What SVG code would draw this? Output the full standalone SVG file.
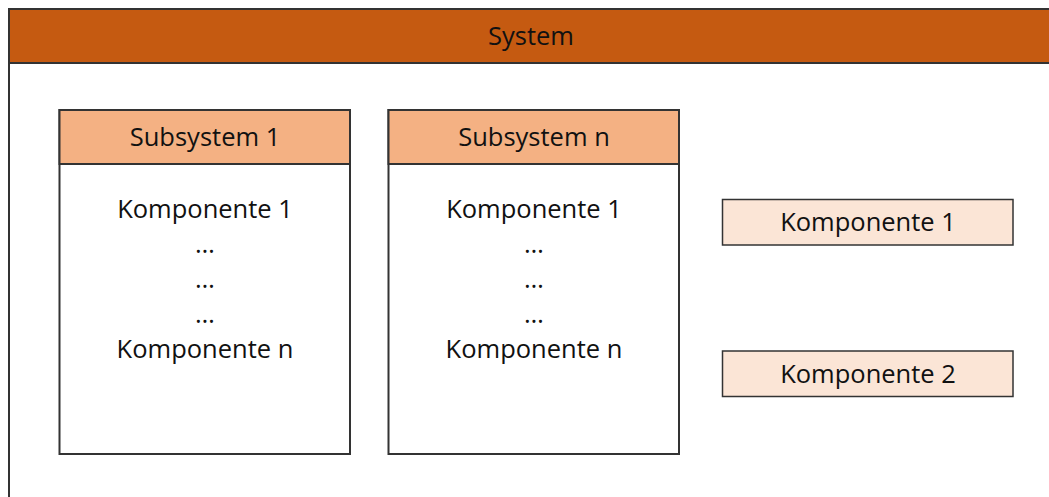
<svg xmlns="http://www.w3.org/2000/svg" width="1049" height="497" viewBox="0 0 1049 497">
<style>
.t{font-family:"Open Sans","Noto Sans","Liberation Sans",sans-serif;font-size:25.5px;fill:#111;text-anchor:middle}
.ln{stroke:#333;stroke-width:2}
.sub{fill:#fff;stroke:#333;stroke-width:2}
.subh{fill:#F4B183;stroke:#333;stroke-width:2}
.comp{fill:#FBE5D6;stroke:#333;stroke-width:1.5}
</style>
<rect width="1049" height="497" fill="#fff"/>
<g id="system">
<rect x="9" y="9" width="1060" height="520" fill="#fff" class="ln"/>
<rect x="9" y="9" width="1060" height="54" fill="#C55A11" class="ln"/>
<text class="t" x="531" y="45">System</text>
</g>
<g id="subsystem1">
<rect x="59.5" y="110" width="290.5" height="344" class="sub"/>
<rect x="59.5" y="110" width="290.5" height="54" class="subh"/>
<text class="t" x="205" y="146">Subsystem 1</text>
<text class="t" x="205" y="218">Komponente 1</text>
<text class="t" x="205" y="253">…</text>
<text class="t" x="205" y="288">…</text>
<text class="t" x="205" y="323">…</text>
<text class="t" x="205" y="358">Komponente n</text>
</g>
<g id="subsystemn">
<rect x="388.5" y="110" width="290.5" height="344" class="sub"/>
<rect x="388.5" y="110" width="290.5" height="54" class="subh"/>
<text class="t" x="534" y="146">Subsystem n</text>
<text class="t" x="534" y="218">Komponente 1</text>
<text class="t" x="534" y="253">…</text>
<text class="t" x="534" y="288">…</text>
<text class="t" x="534" y="323">…</text>
<text class="t" x="534" y="358">Komponente n</text>
</g>
<g id="komponente1">
<rect x="722.5" y="199.5" width="290.5" height="45.5" class="comp"/>
<text class="t" x="868" y="231">Komponente 1</text>
</g>
<g id="komponente2">
<rect x="722.5" y="351" width="290.5" height="45.5" class="comp"/>
<text class="t" x="868" y="383">Komponente 2</text>
</g>
<g id="connectors"></g>
</svg>
